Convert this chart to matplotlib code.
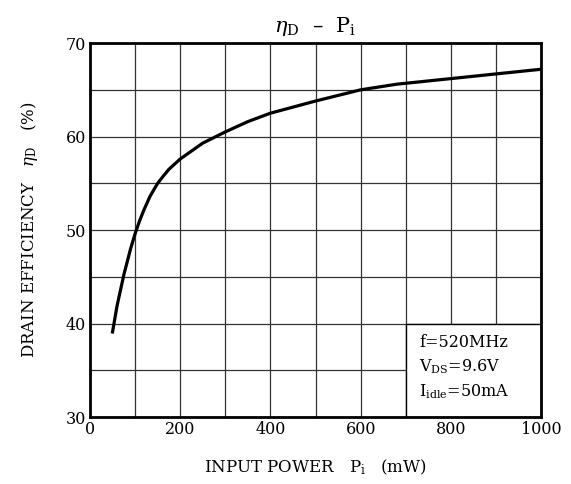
import matplotlib
matplotlib.use('Agg')
import matplotlib.pyplot as plt
from matplotlib.patches import Rectangle

# input power (mW) vs drain efficiency (%)
P_in = [50, 60, 75, 90, 100, 110, 120, 133, 150, 163, 175, 200, 250, 300,
        350, 400, 500, 600, 680, 800, 900, 1000]
eta_d = [39.1, 41.9, 45.2, 48.0, 49.6, 51.0, 52.2, 53.6, 55.0, 55.8, 56.5,
         57.6, 59.3, 60.5, 61.6, 62.5, 63.8, 65.0, 65.6, 66.2, 66.7, 67.2]

x_ticks = [0, 200, 400, 600, 800, 1000]
y_ticks = [30, 40, 50, 60, 70]
conditions = ['f=520MHz', r'V$_{\rm DS}$=9.6V', r'I$_{\rm idle}$=50mA']

plt.rcParams['font.family'] = 'DejaVu Serif'
plt.rcParams['mathtext.fontset'] = 'dejavuserif'

fig = plt.figure(figsize=(5.71, 4.84), dpi=100)
ax = fig.add_axes([0.1576, 0.1384, 0.79, 0.7726])

ax.set_xlim(0, 1000)
ax.set_ylim(30, 70)
ax.set_xticks(x_ticks)
ax.set_yticks(y_ticks)
ax.set_xticks(range(0, 1001, 100), minor=True)
ax.set_yticks(range(30, 71, 5), minor=True)
ax.tick_params(which='both', length=0, labelsize=11.5, pad=3)
ax.grid(which='both', color='#333333', linewidth=0.9)
ax.set_axisbelow(True)
for s in ax.spines.values():
    s.set_linewidth(2)

# box with operating conditions covers grid in lower right
ax.add_patch(Rectangle((700, 30), 300, 10, facecolor='white',
                       edgecolor='black', linewidth=1, zorder=2))
for i, t in enumerate(conditions):
    ax.text(730, 38.0 - i * 2.65, t, fontsize=11.5, va='center', zorder=4)

ax.plot(P_in, eta_d, color='black', linewidth=2.3, zorder=3,
        solid_joinstyle='round')

ax.set_title(r'$\eta_{\rm D}$  –  P$_{\rm i}$', fontsize=15, pad=8)
ax.set_xlabel(r'INPUT POWER   P$_{\rm i}$   (mW)', fontsize=12, labelpad=14)
ax.set_ylabel(r'DRAIN EFFICIENCY   $\eta_{\rm D}$   (%)', fontsize=12, labelpad=18)

fig.savefig('out.png', dpi=100)
